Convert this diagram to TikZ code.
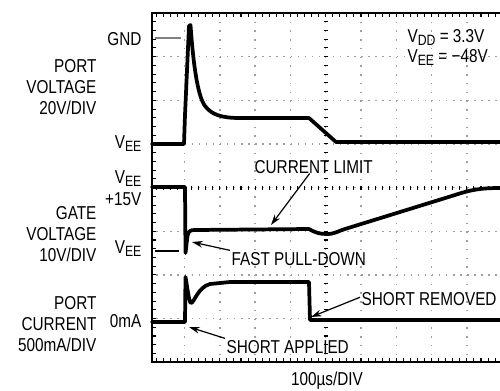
\documentclass[tikz,border=0pt]{standalone}
\usepackage{fontspec}
\setmainfont{Liberation Sans}[FakeStretch=0.82]
\usetikzlibrary{arrows.meta}

\newcommand{\Vsub}[1]{V\raisebox{-0.32ex}{\fontsize{11.2}{12}\selectfont #1}}

\tikzset{
  lbl/.style={inner sep=1pt, font=\fontsize{14}{15.6}\selectfont},
  trace/.style={line width=2.8pt, line join=round, line cap=round},
  vgrid/.style={gray!75, line width=1.1pt, dash pattern=on 1.1pt off 5.45pt},
  hgrid/.style={gray!75, line width=1.1pt, dash pattern=on 1.1pt off 4.2pt},
  frame/.style={line width=1.6pt},
  tick/.style={line width=0.8pt},
  pointer/.style={line width=0.9pt, -{Stealth[length=8pt,width=5pt]}},
  marker/.style={line width=0.9pt}
}

\begin{document}
\begin{tikzpicture}[x=0.75pt,y=0.75pt,yscale=-1,xscale=1]
\useasboundingbox (0,0) rectangle (500,390);

%Grid
\foreach \k in {0,...,8} \draw[vgrid] (184.5+35.3*\k,13) -- (184.5+35.3*\k,362);
\foreach \k in {1,...,7} \draw[hgrid] (156.26,13+43.65*\k) -- (500,13+43.65*\k);
%Center lines with minor ticks
\foreach \j in {0,...,40} \draw[tick] (323.7,13+8.73*\j) -- (327.7,13+8.73*\j);
\foreach \j in {-4,...,44} \draw[tick] (184.5+7.06*\j,186) -- (184.5+7.06*\j,190);

%Frame
\draw[frame] (500,13) -- (152,13) -- (152,362) -- (500,362);
\foreach \j in {-4,...,44} {
  \draw[tick] (184.5+7.06*\j,13) -- ++(0,4);
  \draw[tick] (184.5+7.06*\j,362) -- ++(0,-4);
}
\foreach \j in {1,...,39} \draw[tick] (152,13+8.73*\j) -- ++(4,0);

%Port voltage trace
\draw[trace] (152,144) -- (184,144) -- (185,115) -- (189,26) -- (190.5,25) .. controls (193,60) and (197,95) .. (205,106) .. controls (212,115) and (222,118) .. (240,118) -- (309,118) -- (336,142) -- (500,142);
%Gate voltage trace
\draw[trace] (152,187) -- (185,187) -- (185.5,253) -- (187.5,236) .. controls (188.5,231) and (190,230) .. (195,230) -- (309,229) .. controls (316,233) and (320,234) .. (327,234) .. controls (335,234) and (338,231) .. (345,229) -- (455,195) .. controls (470,190) and (480,188) .. (500,188);
%Port current trace
\draw[trace] (152,322) -- (185,322) -- (185.5,277) .. controls (187,285) and (189,303) .. (191,303) .. controls (194,303) and (198,287) .. (210,284) -- (230,282) -- (309,282) -- (310,320) -- (500,320);

%Level markers
\draw[marker, gray] (155,38) -- (181,38);
\draw[marker] (155,251) -- (179,251);

%Left labels
\node[lbl, anchor=base east] (lblGND) at (143,45) {GND};
\node[lbl, anchor=east, align=right] (lblPortV) at (98,87) {PORT\\VOLTAGE\\20V/DIV};
\node[lbl, anchor=base east] (lblVee) at (143,148) {\Vsub{EE}};
\node[lbl, anchor=base east] (lblVeeTop) at (143,183) {\Vsub{EE}};
\node[lbl, anchor=base east] (lblPlus) at (143,205) {+15V};
\node[lbl, anchor=east, align=right] (lblGate) at (98,234) {GATE\\VOLTAGE\\10V/DIV};
\node[lbl, anchor=base east] (lblVeeGate) at (143,253) {\Vsub{EE}};
\node[lbl, anchor=east, align=right] (lblPortI) at (98,324) {PORT\\CURRENT\\500mA/DIV};
\node[lbl, anchor=base east] (lblZero) at (143,327) {0mA};

%Supply labels
\node[lbl, anchor=base west] (lblVdd) at (406,42) {\Vsub{DD} = 3.3V};
\node[lbl, anchor=base west] (lblVeeVal) at (406,62) {\Vsub{EE} = −48V};

%Callouts
\coordinate (limTip) at (271,225);
\coordinate (fastTip) at (192,242);
\coordinate (remTip) at (311,317);
\coordinate (appTip) at (189,327);
\node[lbl, anchor=base west] (lblLimit) at (253,173) {CURRENT LIMIT};
\node[lbl, anchor=base west] (lblFast) at (230,265) {FAST PULL-DOWN};
\node[lbl, anchor=base west] (lblRemoved) at (360,305) {SHORT REMOVED};
\node[lbl, anchor=base west] (lblApplied) at (225,353) {SHORT APPLIED};
\draw[pointer] ([xshift=-3pt,yshift=-1pt]lblLimit.south) -- (limTip);
\draw[pointer] (lblFast.north west) -- (fastTip);
\draw[pointer] ([yshift=-1pt]lblRemoved.west) -- (remTip);
\draw[pointer] (lblApplied.north west) -- (appTip);

%Time base
\node[lbl, anchor=base] (lblTime) at (327,385) {100µs/DIV};

\end{tikzpicture}
\end{document}
